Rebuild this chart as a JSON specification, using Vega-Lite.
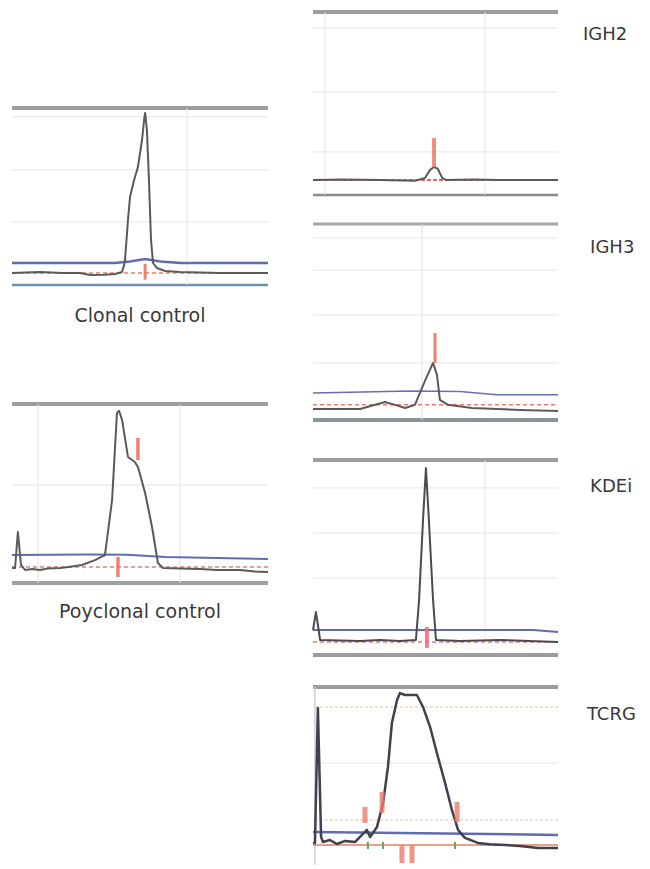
{
  "$schema": "https://vega.github.io/schema/vega-lite/v6.json",
  "background": "white",
  "padding": {"left": 7, "top": 6, "right": 0, "bottom": 0},
  "config": {"view": {"stroke": null}},
  "spacing": 35,
  "resolve": {"scale": {"x": "independent", "y": "independent"}},
  "hconcat": [
    {
      "spacing": 0,
      "resolve": {"scale": {"x": "independent", "y": "independent"}},
      "vconcat": [
        {
          "width": 256, "height": 394,
          "data": {"values": [
            {"el": "hg", "y": 35.6}, {"el": "hg", "y": 65}, {"el": "hg", "y": 95},
            {"el": "vg", "x": 68.4, "y": 0, "y2": 100},
            {"el": "top", "y": 100}, {"el": "bot", "y": 0},
            {"el": "b", "x": 0, "y": 12.4}, {"el": "b", "x": 40, "y": 12.4}, {"el": "b", "x": 46, "y": 13.2}, {"el": "b", "x": 52, "y": 14.7}, {"el": "b", "x": 58, "y": 13.2}, {"el": "b", "x": 66, "y": 12.4}, {"el": "b", "x": 100, "y": 12.4},
            {"el": "o", "x": 0, "y": 6.8}, {"el": "o", "x": 100, "y": 6.8},
            {"el": "t", "x": 0, "y": 6.8}, {"el": "t", "x": 10.9, "y": 7.3}, {"el": "t", "x": 20, "y": 6.8}, {"el": "t", "x": 26.6, "y": 6.8}, {"el": "t", "x": 30.5, "y": 5.6}, {"el": "t", "x": 36, "y": 5.8}, {"el": "t", "x": 40.2, "y": 6.2}, {"el": "t", "x": 43, "y": 7.3}, {"el": "t", "x": 44.1, "y": 13}, {"el": "t", "x": 45.3, "y": 36.7}, {"el": "t", "x": 46.1, "y": 49.7}, {"el": "t", "x": 47.7, "y": 59.3}, {"el": "t", "x": 49.2, "y": 66.7}, {"el": "t", "x": 50.8, "y": 81.9}, {"el": "t", "x": 51.6, "y": 93.2}, {"el": "t", "x": 52, "y": 97.2}, {"el": "t", "x": 52.7, "y": 87.6}, {"el": "t", "x": 53.5, "y": 59.3}, {"el": "t", "x": 54.3, "y": 25.4}, {"el": "t", "x": 55.1, "y": 12.4}, {"el": "t", "x": 56.6, "y": 9.6}, {"el": "t", "x": 59.8, "y": 7.9}, {"el": "t", "x": 65.6, "y": 7.3}, {"el": "t", "x": 81.3, "y": 6.8}, {"el": "t", "x": 100, "y": 6.8},
            {"el": "m", "x": 52, "y": 3, "y2": 12}
          ]},
          "layer": [
            {"transform": [{"filter": "datum.el == 'hg'"}], "mark": {"type": "rule", "color": "#e6e6e6", "strokeWidth": 1},
             "encoding": {"y": {"field": "y", "type": "quantitative", "scale": {"domain": [-65, 157.6], "nice": false, "zero": false}, "axis": null}}},
            {"transform": [{"filter": "datum.el == 'top'"}], "mark": {"type": "rule", "color": "#9c9c9c", "strokeWidth": 4},
             "encoding": {"y": {"field": "y", "type": "quantitative", "axis": null}}},
            {"transform": [{"filter": "datum.el == 'bot'"}], "mark": {"type": "rule", "color": "#7090b0", "strokeWidth": 2.5},
             "encoding": {"y": {"field": "y", "type": "quantitative", "axis": null}}},
            {"transform": [{"filter": "datum.el == 'vg'"}], "mark": {"type": "rule", "color": "#e6e6e6", "strokeWidth": 1},
             "encoding": {"x": {"field": "x", "type": "quantitative", "scale": {"domain": [0, 100], "nice": false, "zero": false}, "axis": null}, "y": {"field": "y", "type": "quantitative", "axis": null}, "y2": {"field": "y2"}}},
            {"transform": [{"filter": "datum.el == 'b'"}], "mark": {"type": "line", "color": "#5f6cb0", "strokeWidth": 2.5},
             "encoding": {"x": {"field": "x", "type": "quantitative", "axis": null}, "y": {"field": "y", "type": "quantitative", "axis": null}}},
            {"transform": [{"filter": "datum.el == 'o'"}], "mark": {"type": "line", "color": "#e58068", "strokeWidth": 1.5, "strokeDash": [4, 3]},
             "encoding": {"x": {"field": "x", "type": "quantitative", "axis": null}, "y": {"field": "y", "type": "quantitative", "axis": null}}},
            {"transform": [{"filter": "datum.el == 't'"}], "mark": {"type": "line", "color": "#5a5a5a", "strokeWidth": 2, "strokeJoin": "round"},
             "encoding": {"x": {"field": "x", "type": "quantitative", "scale": {"domain": [0, 100], "nice": false, "zero": false}, "axis": null}, "y": {"field": "y", "type": "quantitative", "axis": null}}},
            {"transform": [{"filter": "datum.el == 'm'"}], "mark": {"type": "rule", "color": "#ee6a58", "strokeWidth": 3, "opacity": 0.85},
             "encoding": {"x": {"field": "x", "type": "quantitative", "axis": null}, "y": {"field": "y", "type": "quantitative", "axis": null}, "y2": {"field": "y2"}}},
            {"data": {"values": [{"label": "Clonal control"}]}, "mark": {"type": "text", "align": "center", "baseline": "alphabetic", "font": "DejaVu Sans", "fontSize": 19, "color": "#3a3a3a"},
             "encoding": {"x": {"datum": 50, "type": "quantitative"}, "y": {"datum": -20.9, "type": "quantitative"}, "text": {"field": "label", "type": "nominal"}}}
          ]
        },
        {
          "width": 256, "height": 240,
          "data": {"values": [
            {"el": "hg", "y": 54.7},
            {"el": "vg", "x": 10.2, "y": 0, "y2": 100}, {"el": "vg", "x": 65.6, "y": 0, "y2": 100},
            {"el": "top", "y": 100}, {"el": "bot", "y": 0},
            {"el": "b", "x": 0, "y": 15.6}, {"el": "b", "x": 30, "y": 16}, {"el": "b", "x": 45, "y": 15.8}, {"el": "b", "x": 60, "y": 14.5}, {"el": "b", "x": 100, "y": 13.4},
            {"el": "o", "x": 0, "y": 8.9}, {"el": "o", "x": 100, "y": 8.9},
            {"el": "t", "x": 0, "y": 8.4}, {"el": "t", "x": 1.2, "y": 8.4}, {"el": "t", "x": 2.3, "y": 28.5}, {"el": "t", "x": 3.5, "y": 10.1}, {"el": "t", "x": 5.1, "y": 7.3}, {"el": "t", "x": 8, "y": 7.8}, {"el": "t", "x": 10.9, "y": 7.3}, {"el": "t", "x": 14, "y": 8.1}, {"el": "t", "x": 18.8, "y": 8.4}, {"el": "t", "x": 22, "y": 8.9}, {"el": "t", "x": 27.3, "y": 10.1}, {"el": "t", "x": 32.4, "y": 12.8}, {"el": "t", "x": 36.3, "y": 15.6}, {"el": "t", "x": 39.1, "y": 46.4}, {"el": "t", "x": 41, "y": 95}, {"el": "t", "x": 41.8, "y": 96.1}, {"el": "t", "x": 43, "y": 91.1}, {"el": "t", "x": 45.3, "y": 70.4}, {"el": "t", "x": 48, "y": 67.6}, {"el": "t", "x": 49.2, "y": 64.8}, {"el": "t", "x": 52, "y": 50.3}, {"el": "t", "x": 54.7, "y": 31.3}, {"el": "t", "x": 57, "y": 11.2}, {"el": "t", "x": 59, "y": 8.4}, {"el": "t", "x": 66, "y": 8.1}, {"el": "t", "x": 73.4, "y": 7.8}, {"el": "t", "x": 80, "y": 7.3}, {"el": "t", "x": 89, "y": 7.3}, {"el": "t", "x": 95, "y": 6.4}, {"el": "t", "x": 100, "y": 6.1},
            {"el": "m", "x": 49.2, "y": 68.7, "y2": 81}, {"el": "m", "x": 41.4, "y": 3.4, "y2": 14.5}
          ]},
          "layer": [
            {"transform": [{"filter": "datum.el == 'hg'"}], "mark": {"type": "rule", "color": "#e6e6e6", "strokeWidth": 1},
             "encoding": {"y": {"field": "y", "type": "quantitative", "scale": {"domain": [-31.8, 102.2], "nice": false, "zero": false}, "axis": null}}},
            {"transform": [{"filter": "datum.el == 'top'"}], "mark": {"type": "rule", "color": "#9c9c9c", "strokeWidth": 4},
             "encoding": {"y": {"field": "y", "type": "quantitative", "axis": null}}},
            {"transform": [{"filter": "datum.el == 'bot'"}], "mark": {"type": "rule", "color": "#a0a0a0", "strokeWidth": 4},
             "encoding": {"y": {"field": "y", "type": "quantitative", "axis": null}}},
            {"transform": [{"filter": "datum.el == 'vg'"}], "mark": {"type": "rule", "color": "#e6e6e6", "strokeWidth": 1},
             "encoding": {"x": {"field": "x", "type": "quantitative", "scale": {"domain": [0, 100], "nice": false, "zero": false}, "axis": null}, "y": {"field": "y", "type": "quantitative", "axis": null}, "y2": {"field": "y2"}}},
            {"transform": [{"filter": "datum.el == 'b'"}], "mark": {"type": "line", "color": "#5f6cb0", "strokeWidth": 2},
             "encoding": {"x": {"field": "x", "type": "quantitative", "axis": null}, "y": {"field": "y", "type": "quantitative", "axis": null}}},
            {"transform": [{"filter": "datum.el == 'o'"}], "mark": {"type": "line", "color": "#e58068", "strokeWidth": 1.5, "strokeDash": [4, 3]},
             "encoding": {"x": {"field": "x", "type": "quantitative", "axis": null}, "y": {"field": "y", "type": "quantitative", "axis": null}}},
            {"transform": [{"filter": "datum.el == 't'"}], "mark": {"type": "line", "color": "#5a5a5a", "strokeWidth": 2, "strokeJoin": "round"},
             "encoding": {"x": {"field": "x", "type": "quantitative", "scale": {"domain": [0, 100], "nice": false, "zero": false}, "axis": null}, "y": {"field": "y", "type": "quantitative", "axis": null}}},
            {"transform": [{"filter": "datum.el == 'm'"}], "mark": {"type": "rule", "color": "#ee6a58", "strokeWidth": 3.5, "opacity": 0.85},
             "encoding": {"x": {"field": "x", "type": "quantitative", "axis": null}, "y": {"field": "y", "type": "quantitative", "axis": null}, "y2": {"field": "y2"}}},
            {"data": {"values": [{"label": "Poyclonal control"}]}, "mark": {"type": "text", "align": "center", "baseline": "alphabetic", "font": "DejaVu Sans", "fontSize": 19, "color": "#3a3a3a"},
             "encoding": {"x": {"datum": 50, "type": "quantitative"}, "y": {"datum": -19.6, "type": "quantitative"}, "text": {"field": "label", "type": "nominal"}}}
          ]
        }
      ]
    },
    {
      "spacing": 0,
      "resolve": {"scale": {"x": "independent", "y": "independent"}},
      "vconcat": [
        {
          "width": 245, "height": 212,
          "data": {"values": [
            {"el": "hg", "y": 23.5}, {"el": "hg", "y": 56.3}, {"el": "hg", "y": 91.3},
            {"el": "vg", "x": 4.9, "y": 0, "y2": 100}, {"el": "vg", "x": 70.2, "y": 0, "y2": 100},
            {"el": "top", "y": 100}, {"el": "bot", "y": 0},
            {"el": "o", "x": 0, "y": 8.2}, {"el": "o", "x": 100, "y": 8.2},
            {"el": "t", "x": 0, "y": 8.2}, {"el": "t", "x": 12, "y": 8.5}, {"el": "t", "x": 27.3, "y": 8.2}, {"el": "t", "x": 41.6, "y": 7.7}, {"el": "t", "x": 45.7, "y": 9.3}, {"el": "t", "x": 47.8, "y": 13.7}, {"el": "t", "x": 49.4, "y": 15.3}, {"el": "t", "x": 51, "y": 14.2}, {"el": "t", "x": 52.7, "y": 9.3}, {"el": "t", "x": 54.3, "y": 8.2}, {"el": "t", "x": 65, "y": 8.5}, {"el": "t", "x": 76.3, "y": 8.2}, {"el": "t", "x": 100, "y": 8.2},
            {"el": "m", "x": 49.4, "y": 15.3, "y2": 31.1}
          ]},
          "layer": [
            {"transform": [{"filter": "datum.el == 'hg'"}], "mark": {"type": "rule", "color": "#e6e6e6", "strokeWidth": 1},
             "encoding": {"y": {"field": "y", "type": "quantitative", "scale": {"domain": [-12.6, 103.3], "nice": false, "zero": false}, "axis": null}}},
            {"transform": [{"filter": "datum.el == 'top'"}], "mark": {"type": "rule", "color": "#9c9c9c", "strokeWidth": 4},
             "encoding": {"y": {"field": "y", "type": "quantitative", "axis": null}}},
            {"transform": [{"filter": "datum.el == 'bot'"}], "mark": {"type": "rule", "color": "#8c8c8c", "strokeWidth": 2.5},
             "encoding": {"y": {"field": "y", "type": "quantitative", "axis": null}}},
            {"transform": [{"filter": "datum.el == 'vg'"}], "mark": {"type": "rule", "color": "#e6e6e6", "strokeWidth": 1},
             "encoding": {"x": {"field": "x", "type": "quantitative", "scale": {"domain": [0, 100], "nice": false, "zero": false}, "axis": null}, "y": {"field": "y", "type": "quantitative", "axis": null}, "y2": {"field": "y2"}}},
            {"transform": [{"filter": "datum.el == 'o'"}], "mark": {"type": "line", "color": "#d86a60", "strokeWidth": 2, "strokeDash": [4, 2]},
             "encoding": {"x": {"field": "x", "type": "quantitative", "axis": null}, "y": {"field": "y", "type": "quantitative", "axis": null}}},
            {"transform": [{"filter": "datum.el == 't'"}], "mark": {"type": "line", "color": "#5a5a5a", "strokeWidth": 2, "strokeJoin": "round"},
             "encoding": {"x": {"field": "x", "type": "quantitative", "scale": {"domain": [0, 100], "nice": false, "zero": false}, "axis": null}, "y": {"field": "y", "type": "quantitative", "axis": null}}},
            {"transform": [{"filter": "datum.el == 'm'"}], "mark": {"type": "rule", "color": "#ee7a68", "strokeWidth": 4, "opacity": 0.85},
             "encoding": {"x": {"field": "x", "type": "quantitative", "axis": null}, "y": {"field": "y", "type": "quantitative", "axis": null}, "y2": {"field": "y2"}}},
            {"data": {"values": [{"label": "IGH2"}]}, "mark": {"type": "text", "align": "left", "baseline": "alphabetic", "font": "DejaVu Sans", "fontSize": 18, "color": "#3a3a3a"},
             "encoding": {"x": {"datum": 110.2, "type": "quantitative"}, "y": {"datum": 84.7, "type": "quantitative"}, "text": {"field": "label", "type": "nominal"}}}
          ]
        },
        {
          "width": 245, "height": 237,
          "data": {"values": [
            {"el": "hg", "y": 29.1}, {"el": "hg", "y": 53.6}, {"el": "hg", "y": 76.5}, {"el": "hg", "y": 92.9},
            {"el": "vg", "x": 44.5, "y": 0, "y2": 100},
            {"el": "top", "y": 100}, {"el": "bot", "y": 0},
            {"el": "b", "x": 0, "y": 13.8}, {"el": "b", "x": 40, "y": 14.8}, {"el": "b", "x": 60, "y": 14.5}, {"el": "b", "x": 75, "y": 12.8}, {"el": "b", "x": 100, "y": 12.8},
            {"el": "o", "x": 0, "y": 7.7}, {"el": "o", "x": 100, "y": 7.7},
            {"el": "t", "x": 0, "y": 5.6}, {"el": "t", "x": 19.2, "y": 5.6}, {"el": "t", "x": 29.4, "y": 9.2}, {"el": "t", "x": 33.5, "y": 7.7}, {"el": "t", "x": 37.6, "y": 6.1}, {"el": "t", "x": 41.6, "y": 7.7}, {"el": "t", "x": 45.7, "y": 19.9}, {"el": "t", "x": 49, "y": 29.1}, {"el": "t", "x": 50.6, "y": 23}, {"el": "t", "x": 51.8, "y": 10.2}, {"el": "t", "x": 55.1, "y": 7.7}, {"el": "t", "x": 64.9, "y": 6.1}, {"el": "t", "x": 84.5, "y": 5.1}, {"el": "t", "x": 100, "y": 4.6},
            {"el": "m", "x": 49.8, "y": 29.1, "y2": 44.4}
          ]},
          "layer": [
            {"transform": [{"filter": "datum.el == 'hg'"}], "mark": {"type": "rule", "color": "#e6e6e6", "strokeWidth": 1},
             "encoding": {"y": {"field": "y", "type": "quantitative", "scale": {"domain": [-17.9, 103.1], "nice": false, "zero": false}, "axis": null}}},
            {"transform": [{"filter": "datum.el == 'top'"}], "mark": {"type": "rule", "color": "#a8a8a8", "strokeWidth": 3},
             "encoding": {"y": {"field": "y", "type": "quantitative", "axis": null}}},
            {"transform": [{"filter": "datum.el == 'bot'"}], "mark": {"type": "rule", "color": "#8a9598", "strokeWidth": 4},
             "encoding": {"y": {"field": "y", "type": "quantitative", "axis": null}}},
            {"transform": [{"filter": "datum.el == 'vg'"}], "mark": {"type": "rule", "color": "#e0e0e0", "strokeWidth": 1},
             "encoding": {"x": {"field": "x", "type": "quantitative", "scale": {"domain": [0, 100], "nice": false, "zero": false}, "axis": null}, "y": {"field": "y", "type": "quantitative", "axis": null}, "y2": {"field": "y2"}}},
            {"transform": [{"filter": "datum.el == 'b'"}], "mark": {"type": "line", "color": "#6670b0", "strokeWidth": 1.5},
             "encoding": {"x": {"field": "x", "type": "quantitative", "axis": null}, "y": {"field": "y", "type": "quantitative", "axis": null}}},
            {"transform": [{"filter": "datum.el == 'o'"}], "mark": {"type": "line", "color": "#e58068", "strokeWidth": 1.5, "strokeDash": [4, 3]},
             "encoding": {"x": {"field": "x", "type": "quantitative", "axis": null}, "y": {"field": "y", "type": "quantitative", "axis": null}}},
            {"transform": [{"filter": "datum.el == 't'"}], "mark": {"type": "line", "color": "#5a5a5a", "strokeWidth": 2, "strokeJoin": "round"},
             "encoding": {"x": {"field": "x", "type": "quantitative", "scale": {"domain": [0, 100], "nice": false, "zero": false}, "axis": null}, "y": {"field": "y", "type": "quantitative", "axis": null}}},
            {"transform": [{"filter": "datum.el == 'm'"}], "mark": {"type": "rule", "color": "#ee6a58", "strokeWidth": 3, "opacity": 0.85},
             "encoding": {"x": {"field": "x", "type": "quantitative", "axis": null}, "y": {"field": "y", "type": "quantitative", "axis": null}, "y2": {"field": "y2"}}},
            {"data": {"values": [{"label": "IGH3"}]}, "mark": {"type": "text", "align": "left", "baseline": "alphabetic", "font": "DejaVu Sans", "fontSize": 18, "color": "#3a3a3a"},
             "encoding": {"x": {"datum": 113.1, "type": "quantitative"}, "y": {"datum": 85.2, "type": "quantitative"}, "text": {"field": "label", "type": "nominal"}}}
          ]
        },
        {
          "width": 245, "height": 195,
          "data": {"values": [
            {"el": "hg", "y": 36.2}, {"el": "hg", "y": 60.5}, {"el": "hg", "y": 84.9},
            {"el": "vg", "x": 70.2, "y": 0, "y2": 100},
            {"el": "top", "y": 100},
            {"el": "b", "x": 0, "y": 8.1}, {"el": "b", "x": 90, "y": 8.1}, {"el": "b", "x": 100, "y": 7},
            {"el": "o", "x": 0, "y": 1.6}, {"el": "o", "x": 100, "y": 1.6},
            {"el": "t", "x": 0, "y": 8.1}, {"el": "t", "x": 1.2, "y": 17.8}, {"el": "t", "x": 2, "y": 10.8}, {"el": "t", "x": 2.9, "y": 2.7}, {"el": "t", "x": 19.2, "y": 2.2}, {"el": "t", "x": 27.3, "y": 2.7}, {"el": "t", "x": 35.5, "y": 2.2}, {"el": "t", "x": 42, "y": 2.7}, {"el": "t", "x": 43.3, "y": 24.3}, {"el": "t", "x": 44.9, "y": 67.6}, {"el": "t", "x": 46.1, "y": 95.7}, {"el": "t", "x": 47.3, "y": 67.6}, {"el": "t", "x": 49, "y": 24.3}, {"el": "t", "x": 50.2, "y": 2.7}, {"el": "t", "x": 60, "y": 2.2}, {"el": "t", "x": 76.3, "y": 2.7}, {"el": "t", "x": 100, "y": 1.6},
            {"el": "m", "x": 46.5, "y": -1.6, "y2": 9.7}
          ]},
          "layer": [
            {"transform": [{"filter": "datum.el == 'hg'"}], "mark": {"type": "rule", "color": "#e6e6e6", "strokeWidth": 1},
             "encoding": {"y": {"field": "y", "type": "quantitative", "scale": {"domain": [-2.7, 102.7], "nice": false, "zero": false}, "axis": null}}},
            {"transform": [{"filter": "datum.el == 'top'"}], "mark": {"type": "rule", "color": "#9c9c9c", "strokeWidth": 4},
             "encoding": {"y": {"field": "y", "type": "quantitative", "axis": null}}},
            {"transform": [{"filter": "datum.el == 'vg'"}], "mark": {"type": "rule", "color": "#e6e6e6", "strokeWidth": 1},
             "encoding": {"x": {"field": "x", "type": "quantitative", "scale": {"domain": [0, 100], "nice": false, "zero": false}, "axis": null}, "y": {"field": "y", "type": "quantitative", "axis": null}, "y2": {"field": "y2"}}},
            {"transform": [{"filter": "datum.el == 'b'"}], "mark": {"type": "line", "color": "#5f6cb0", "strokeWidth": 2},
             "encoding": {"x": {"field": "x", "type": "quantitative", "axis": null}, "y": {"field": "y", "type": "quantitative", "axis": null}}},
            {"transform": [{"filter": "datum.el == 'o'"}], "mark": {"type": "line", "color": "#e58068", "strokeWidth": 1.5, "strokeDash": [4, 3]},
             "encoding": {"x": {"field": "x", "type": "quantitative", "axis": null}, "y": {"field": "y", "type": "quantitative", "axis": null}}},
            {"transform": [{"filter": "datum.el == 't'"}], "mark": {"type": "line", "color": "#4a4a55", "strokeWidth": 2, "strokeJoin": "round"},
             "encoding": {"x": {"field": "x", "type": "quantitative", "scale": {"domain": [0, 100], "nice": false, "zero": false}, "axis": null}, "y": {"field": "y", "type": "quantitative", "axis": null}}},
            {"transform": [{"filter": "datum.el == 'm'"}], "mark": {"type": "rule", "color": "#f06878", "strokeWidth": 4, "opacity": 0.85},
             "encoding": {"x": {"field": "x", "type": "quantitative", "axis": null}, "y": {"field": "y", "type": "quantitative", "axis": null}, "y2": {"field": "y2"}}},
            {"data": {"values": [{"label": "KDEi"}]}, "mark": {"type": "text", "align": "left", "baseline": "alphabetic", "font": "DejaVu Sans", "fontSize": 18, "color": "#3a3a3a"},
             "encoding": {"x": {"datum": 113.1, "type": "quantitative"}, "y": {"datum": 82.7, "type": "quantitative"}, "text": {"field": "label", "type": "nominal"}}}
          ]
        },
        {
          "width": 245, "height": 218,
          "data": {"values": [
            {"el": "hg", "y": 57.3},
            {"el": "og", "y": 88.8}, {"el": "og", "y": 25.3},
            {"el": "vg", "x": 0.8, "y": 0, "y2": 100},
            {"el": "top", "y": 118}, {"el": "top", "y": 100},
            {"el": "b", "x": 0, "y": 18.5}, {"el": "b", "x": 100, "y": 16.9},
            {"el": "o", "x": 0, "y": 11.2}, {"el": "o", "x": 100, "y": 11.2},
            {"el": "t", "x": 0, "y": 12.4}, {"el": "t", "x": 0.8, "y": 12.4}, {"el": "t", "x": 2, "y": 88.2}, {"el": "t", "x": 3.3, "y": 15.7}, {"el": "t", "x": 4.1, "y": 12.9}, {"el": "t", "x": 6.9, "y": 14}, {"el": "t", "x": 9.8, "y": 11.8}, {"el": "t", "x": 13.1, "y": 13.5}, {"el": "t", "x": 17.1, "y": 12.9}, {"el": "t", "x": 20, "y": 16.9}, {"el": "t", "x": 22, "y": 19.7}, {"el": "t", "x": 23.3, "y": 15.7}, {"el": "t", "x": 26.1, "y": 21.3}, {"el": "t", "x": 28.6, "y": 34.8}, {"el": "t", "x": 30.6, "y": 55.1}, {"el": "t", "x": 32.2, "y": 79.8}, {"el": "t", "x": 34.3, "y": 92.7}, {"el": "t", "x": 35.5, "y": 96.6}, {"el": "t", "x": 37.6, "y": 95.5}, {"el": "t", "x": 40.4, "y": 95.5}, {"el": "t", "x": 42.4, "y": 95.5}, {"el": "t", "x": 44.9, "y": 88.8}, {"el": "t", "x": 47.8, "y": 77.5}, {"el": "t", "x": 51, "y": 60.7}, {"el": "t", "x": 53.9, "y": 46.1}, {"el": "t", "x": 56.7, "y": 30.9}, {"el": "t", "x": 59.2, "y": 19.7}, {"el": "t", "x": 62, "y": 15.2}, {"el": "t", "x": 67.3, "y": 12.4}, {"el": "t", "x": 72, "y": 11.6}, {"el": "t", "x": 78.4, "y": 11.2}, {"el": "t", "x": 84.5, "y": 10.7}, {"el": "t", "x": 91.8, "y": 9.6}, {"el": "t", "x": 100, "y": 9.6},
            {"el": "m", "x": 21.2, "y": 23.6, "y2": 32.6}, {"el": "m", "x": 28.2, "y": 29.2, "y2": 41}, {"el": "m", "x": 58.8, "y": 24.2, "y2": 35.4}, {"el": "m", "x": 36.3, "y": 1.1, "y2": 11.2}, {"el": "m", "x": 40.4, "y": 1.1, "y2": 11.2},
            {"el": "g", "x": 22.4, "y": 9, "y2": 13}, {"el": "g", "x": 28.6, "y": 9, "y2": 13}, {"el": "g", "x": 58, "y": 9, "y2": 13}
          ]},
          "layer": [
            {"transform": [{"filter": "datum.el == 'hg'"}], "mark": {"type": "rule", "color": "#e6e6e6", "strokeWidth": 1},
             "encoding": {"y": {"field": "y", "type": "quantitative", "scale": {"domain": [-1.7, 120.8], "nice": false, "zero": false}, "axis": null}}},
            {"transform": [{"filter": "datum.el == 'og'"}], "mark": {"type": "rule", "color": "#f0c0b0", "strokeWidth": 1, "strokeDash": [3, 2]},
             "encoding": {"y": {"field": "y", "type": "quantitative", "axis": null}}},
            {"transform": [{"filter": "datum.el == 'top'"}], "mark": {"type": "rule", "color": "#9c9c9c", "strokeWidth": 4},
             "encoding": {"y": {"field": "y", "type": "quantitative", "axis": null}}},
            {"transform": [{"filter": "datum.el == 'vg'"}], "mark": {"type": "rule", "color": "#d0d0d0", "strokeWidth": 1.5},
             "encoding": {"x": {"field": "x", "type": "quantitative", "scale": {"domain": [0, 100], "nice": false, "zero": false}, "axis": null}, "y": {"field": "y", "type": "quantitative", "axis": null}, "y2": {"field": "y2"}}},
            {"transform": [{"filter": "datum.el == 'b'"}], "mark": {"type": "line", "color": "#5f6cb0", "strokeWidth": 2.5},
             "encoding": {"x": {"field": "x", "type": "quantitative", "axis": null}, "y": {"field": "y", "type": "quantitative", "axis": null}}},
            {"transform": [{"filter": "datum.el == 'o'"}], "mark": {"type": "line", "color": "#e58068", "strokeWidth": 1.5},
             "encoding": {"x": {"field": "x", "type": "quantitative", "axis": null}, "y": {"field": "y", "type": "quantitative", "axis": null}}},
            {"transform": [{"filter": "datum.el == 'g'"}], "mark": {"type": "rule", "color": "#5aaa5a", "strokeWidth": 2},
             "encoding": {"x": {"field": "x", "type": "quantitative", "axis": null}, "y": {"field": "y", "type": "quantitative", "axis": null}, "y2": {"field": "y2"}}},
            {"transform": [{"filter": "datum.el == 't'"}], "mark": {"type": "line", "color": "#3f4150", "strokeWidth": 2.5, "strokeJoin": "round"},
             "encoding": {"x": {"field": "x", "type": "quantitative", "scale": {"domain": [0, 100], "nice": false, "zero": false}, "axis": null}, "y": {"field": "y", "type": "quantitative", "axis": null}}},
            {"transform": [{"filter": "datum.el == 'm'"}], "mark": {"type": "rule", "color": "#f07a68", "strokeWidth": 5, "opacity": 0.8},
             "encoding": {"x": {"field": "x", "type": "quantitative", "axis": null}, "y": {"field": "y", "type": "quantitative", "axis": null}, "y2": {"field": "y2"}}},
            {"data": {"values": [{"label": "TCRG"}]}, "mark": {"type": "text", "align": "left", "baseline": "alphabetic", "font": "DejaVu Sans", "fontSize": 18, "color": "#3a3a3a"},
             "encoding": {"x": {"datum": 111.8, "type": "quantitative"}, "y": {"datum": 81.5, "type": "quantitative"}, "text": {"field": "label", "type": "nominal"}}}
          ]
        }
      ]
    }
  ]
}
